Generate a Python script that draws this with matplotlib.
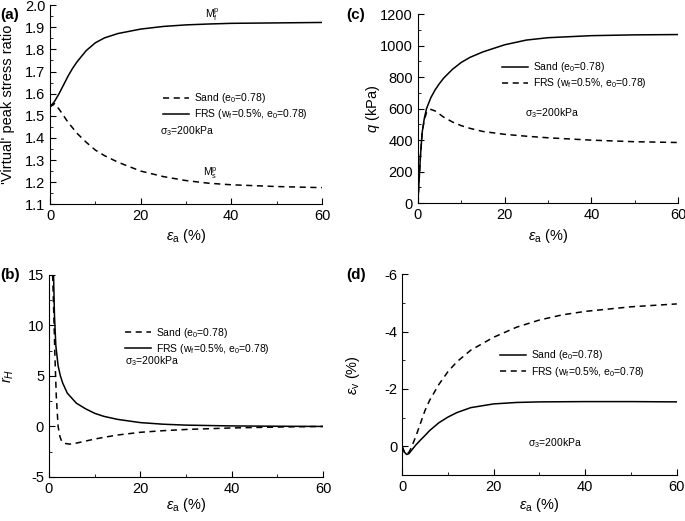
import numpy as np
import matplotlib
matplotlib.use("Agg")
import matplotlib.pyplot as plt
from matplotlib.ticker import MultipleLocator

plt.rcParams['font.family'] = ['Liberation Sans', 'DejaVu Sans']
plt.rcParams['mathtext.fontset'] = 'custom'
plt.rcParams['mathtext.rm'] = 'Liberation Sans'
plt.rcParams['mathtext.it'] = 'Liberation Sans:italic'
plt.rcParams['mathtext.bf'] = 'Liberation Sans:bold'
plt.rcParams['axes.unicode_minus'] = False

# (a) virtual peak stress ratio
a_frs_x = [0, 1, 2, 3, 4, 5, 6, 8, 10, 12, 15, 20, 25, 30, 35, 40, 50, 60]
a_frs_y = [1.54, 1.565, 1.60, 1.64, 1.68, 1.715, 1.745, 1.795, 1.83, 1.852, 1.872, 1.892, 1.904, 1.911, 1.915, 1.918, 1.92, 1.922]
a_sand_x = [0, 1, 2, 3, 4, 5, 6, 8, 10, 12, 15, 20, 25, 30, 35, 40, 50, 60]
a_sand_y = [1.54, 1.555, 1.53, 1.50, 1.47, 1.445, 1.42, 1.38, 1.345, 1.32, 1.29, 1.25, 1.225, 1.207, 1.195, 1.188, 1.18, 1.175]

# (b) r_H
b_frs_x = [1.0, 1.2, 1.5, 2.0, 2.5, 3, 4, 5, 6, 8, 10, 12, 15, 20, 25, 30, 40, 50, 60]
b_frs_y = [15, 11, 8, 6, 5, 4.3, 3.3, 2.8, 2.3, 1.75, 1.3, 1.0, 0.7, 0.38, 0.22, 0.13, 0.05, 0.02, 0]
b_sand_x = [0.8, 1.0, 1.3, 1.6, 2.0, 2.4, 2.8, 3.5, 4.5, 6, 8, 10, 12, 15, 20, 25, 30, 40, 50, 60]
b_sand_y = [15, 12, 7, 3, 0, -1.0, -1.5, -1.68, -1.75, -1.65, -1.45, -1.25, -1.08, -0.85, -0.58, -0.42, -0.3, -0.15, -0.06, 0]

# (c) q
c_sand_x = [0, 0.3, 0.6, 1, 1.5, 2, 3, 4, 5, 6, 8, 10, 12, 15, 20, 25, 30, 40, 50, 60]
c_sand_y = [0, 150, 300, 450, 540, 600, 670, 720, 760, 795, 850, 893, 925, 960, 1005, 1035, 1050, 1063, 1068, 1070]
c_frs_x = [0, 0.3, 0.6, 1, 1.5, 2, 2.5, 3, 4, 5, 6, 8, 10, 12, 15, 20, 25, 30, 40, 50, 60]
c_frs_y = [0, 150, 300, 450, 530, 575, 592, 595, 585, 565, 545, 515, 492, 475, 455, 437, 425, 415, 400, 390, 385]

# (d) volumetric strain
d_sand_x = [0, 0.5, 1, 1.5, 2, 3, 4, 5, 6, 8, 10, 12, 15, 20, 25, 30, 40, 50, 60]
d_sand_y = [0, 0.2, 0.28, 0.25, 0.15, -0.05, -0.22, -0.38, -0.55, -0.82, -1.02, -1.18, -1.35, -1.48, -1.53, -1.55, -1.56, -1.56, -1.55]
d_frs_x = [0, 0.5, 1, 1.5, 2, 3, 4, 5, 6, 8, 10, 12, 15, 20, 25, 30, 35, 40, 50, 60]
d_frs_y = [0, 0.2, 0.27, 0.2, 0.05, -0.35, -0.8, -1.25, -1.6, -2.15, -2.6, -2.95, -3.35, -3.8, -4.15, -4.4, -4.58, -4.7, -4.86, -4.96]

sand_lbl = r'Sand (e$_\mathregular{0}$=0.78)'
frs_lbl = r'FRS (w$_\mathregular{f}$=0.5%, e$_\mathregular{0}$=0.78)'
sig_lbl = r'$\mathregular{\sigma_3}$=200kPa'
xlbl = r'$\varepsilon_\mathregular{a}$ (%)'

fig = plt.figure(figsize=(6.85, 5.21), dpi=100)
axa = fig.add_axes([0.073, 0.608, 0.397, 0.382])
axc = fig.add_axes([0.610, 0.610, 0.380, 0.363])
axb = fig.add_axes([0.0715, 0.0845, 0.400, 0.388])
axd = fig.add_axes([0.587, 0.088, 0.401, 0.386])

lw = 1.1
dash = (0, (4, 3))


def style(ax, ylbl, xl, yl):
    ax.set_xlim(0, 60)
    ax.xaxis.set_major_locator(MultipleLocator(20))
    ax.xaxis.set_minor_locator(MultipleLocator(10))
    ax.tick_params(which='both', direction='in', labelsize=10.5, top=False, right=False)
    ax.tick_params(which='major', length=4)
    ax.tick_params(which='minor', length=2)
    ax.spines['top'].set_visible(False)
    ax.spines['right'].set_visible(False)
    for s in ax.spines.values():
        s.set_linewidth(0.8)
    ax.set_xlabel(xlbl, fontsize=10.5, va='center')
    ax.xaxis.set_label_coords(0.5, xl)
    ax.set_ylabel(ylbl, fontsize=10.5, va='center')
    ax.yaxis.set_label_coords(yl, 0.5)


def leg(ax, x, y):
    ax.legend(loc='upper left', bbox_to_anchor=(x, y), frameon=False, fontsize=7.5,
              borderpad=0, borderaxespad=0, handlelength=2.5, handletextpad=0.5,
              labelspacing=0.2)


# (a)
axa.plot(a_sand_x, a_sand_y, 'k', ls=dash, lw=lw, label=sand_lbl)
axa.plot(a_frs_x, a_frs_y, 'k-', lw=lw, label=frs_lbl)
axa.set_ylim(1.1, 2.0)
axa.yaxis.set_major_locator(MultipleLocator(0.1))
axa.yaxis.set_minor_locator(MultipleLocator(0.05))
style(axa, "'Virtual' peak stress ratio", -0.161, -0.154)
leg(axa, 0.415, 0.568)
axa.text(0.404, 0.367, sig_lbl, transform=axa.transAxes, fontsize=7.5, va='center')
axa.text(35.9, 1.955, r'$\mathregular{M_f^p}$', fontsize=7.5, ha='center', va='center')
axa.text(35.4, 1.24, r'$\mathregular{M_s^p}$', fontsize=7.5, ha='center', va='center')

# (c)
axc.plot(c_sand_x, c_sand_y, 'k-', lw=lw, label=sand_lbl)
axc.plot(c_frs_x, c_frs_y, 'k', ls=dash, lw=lw, label=frs_lbl)
axc.set_ylim(0, 1200)
axc.yaxis.set_major_locator(MultipleLocator(200))
axc.yaxis.set_minor_locator(MultipleLocator(100))
style(axc, r'$q$ (kPa)', -0.175, -0.173)
leg(axc, 0.323, 0.755)
axc.text(0.41, 0.476, sig_lbl, transform=axc.transAxes, fontsize=7.5, va='center')

# (b)
axb.plot(b_sand_x, b_sand_y, 'k', ls=dash, lw=lw, label=sand_lbl)
axb.plot(b_frs_x, b_frs_y, 'k-', lw=lw, label=frs_lbl)
axb.set_ylim(-5, 15)
axb.yaxis.set_major_locator(MultipleLocator(5))
axb.yaxis.set_minor_locator(MultipleLocator(2.5))
style(axb, r'$r_H$', -0.139, -0.15)
leg(axb, 0.277, 0.748)
axb.text(0.277, 0.572, sig_lbl, transform=axb.transAxes, fontsize=7.5, va='center')

# (d)
axd.plot(d_sand_x, d_sand_y, 'k-', lw=lw, label=sand_lbl)
axd.plot(d_frs_x, d_frs_y, 'k', ls=dash, lw=lw, label=frs_lbl)
axd.set_ylim(1, -6)
axd.yaxis.set_major_locator(MultipleLocator(2))
axd.yaxis.set_minor_locator(MultipleLocator(1))
style(axd, r'$\varepsilon_\mathregular{v}$ (%)', -0.149, -0.178)
leg(axd, 0.356, 0.63)
axd.text(0.458, 0.159, sig_lbl, transform=axd.transAxes, fontsize=7.5, va='center')

for lab, x, y in [('(a)', 0.0, 0.985), ('(c)', 0.505, 0.985), ('(b)', 0.0, 0.485), ('(d)', 0.505, 0.485)]:
    fig.text(x, y, lab, fontsize=11, fontweight='bold', va='top', ha='left')

fig.savefig('out.png', dpi=100)
